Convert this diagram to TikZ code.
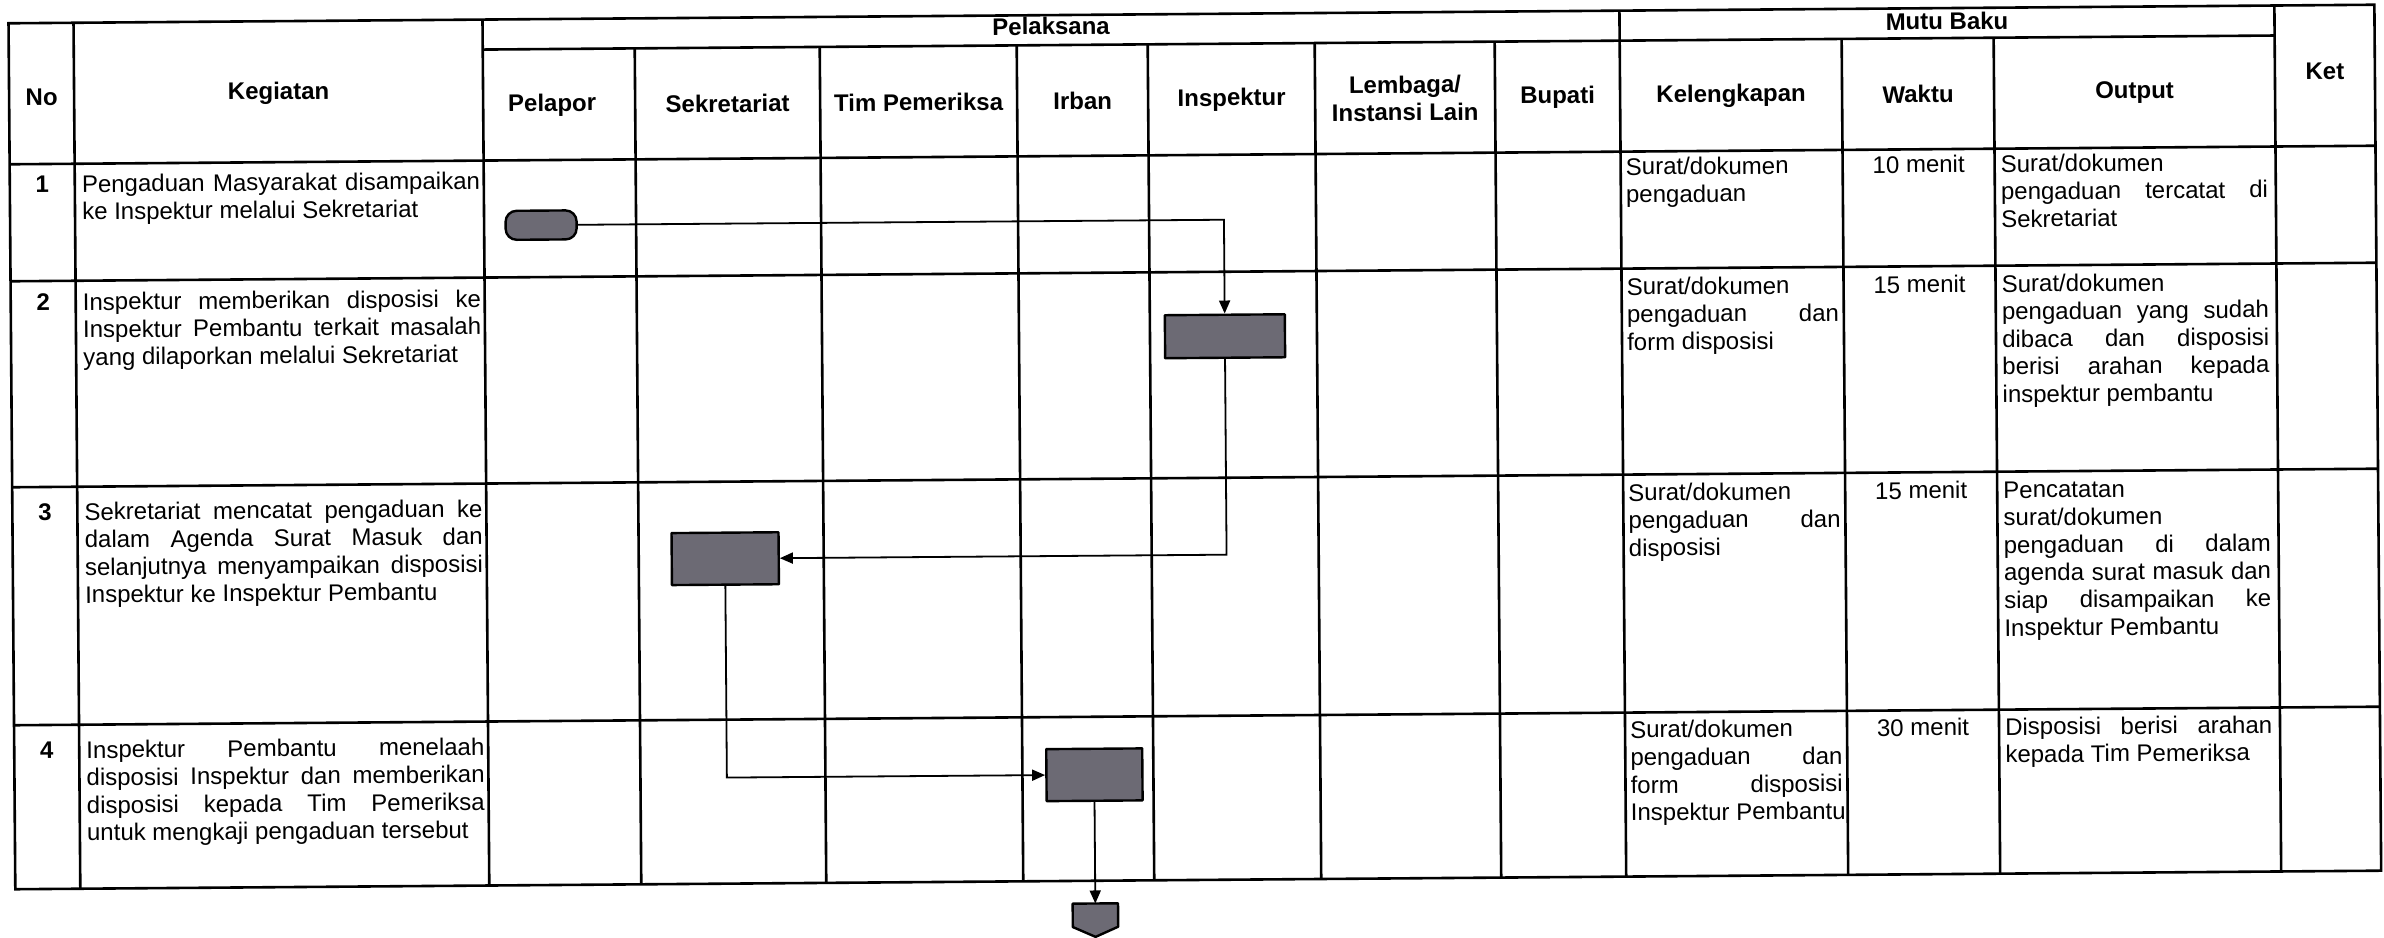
\documentclass[tikz,border=0pt]{standalone}
\usepackage{fontspec}
\setmainfont{Liberation Sans}
\usetikzlibrary{arrows.meta,calc}
\definecolor{boxgray}{RGB}{108,106,116}
\newcommand{\jl}[2]{\makebox[#1][s]{#2}}
\begin{document}
\begin{tikzpicture}[x=1pt,y=-1pt,
  grid/.style={line width=2.6pt,black},
  txt/.style={inner sep=0pt,anchor=north west,align=left,font=\fontsize{24}{27.6}\selectfont},
  hdr/.style={inner sep=0pt,align=center,font=\fontsize{24}{27.6}\selectfont\bfseries},
  num/.style={inner sep=0pt,anchor=north,font=\fontsize{24}{27.6}\selectfont\bfseries},
  wkt/.style={inner sep=0pt,anchor=north,font=\fontsize{24}{27.6}\selectfont},
  proc/.style={draw=black,line width=2.4pt,fill=boxgray,inner sep=0pt,line join=round},
  term/.style={proc,rounded corners=11pt},
  flow/.style={line width=1.8pt,-{Triangle[length=13pt,width=11pt]}},
]
\useasboundingbox (0,0) rectangle (2384,937);
\begin{scope}[rotate around={0.45:(1192,468)},transform shape]
% ---------- table grid ----------
\draw[grid] (12,14) rectangle (2378,880);
\draw[grid] (486,44) -- (2278,44);
\foreach \y in {155,272,478,716} \draw[grid] (12,\y) -- (2378,\y);
\foreach \x in {77,486,1623,2278} \draw[grid] (\x,14) -- (\x,880);
\foreach \x in {638,823,1020,1151,1318,1498,1845,1997} \draw[grid] (\x,44) -- (\x,880);

% ---------- headers ----------
\node[hdr] (hNo) at (44.5,88) {No};
\node[hdr] (hKeg) at (281.5,86) {Kegiatan};
\node[hdr] (hPel) at (1054.5,25) {Pelaksana};
\node[hdr] (hMutu) at (1950.5,27) {Mutu Baku};
\node[hdr] (hKet) at (2328,80) {Ket};
\node[hdr] (hPelapor) at (555,100) {Pelapor};
\node[hdr] (hSek) at (730.5,100) {Sekretariat};
\node[hdr] (hTim) at (921.5,100) {Tim Pemeriksa};
\node[hdr] (hIrban) at (1085.5,100) {Irban};
\node[hdr] (hInsp) at (1234.5,100) {Inspektur};
\node[hdr] (hLem) at (1408,100) {Lembaga/\\Instansi Lain};
\node[hdr] (hBup) at (1560.5,100) {Bupati};
\node[hdr] (hKel) at (1734,100) {Kelengkapan};
\node[hdr] (hWak) at (1921,100) {Waktu};
\node[hdr] (hOut) at (2137.5,100) {Output};

% ---------- numbers ----------
\node[num] (n1) at (44.5,164) {\strut 1};
\node[num] (n2) at (44.5,282) {\strut 2};
\node[num] (n3) at (44.5,492) {\strut 3};
\node[num] (n4) at (44.5,730) {\strut 4};

% ---------- kegiatan ----------
\node[txt] (k1) at (84,164) {\strut\jl{398pt}{Pengaduan Masyarakat disampaikan}\\ke Inspektur melalui Sekretariat};
\node[txt] (k2) at (84,282) {\strut\jl{398pt}{Inspektur memberikan disposisi ke}\\\jl{398pt}{Inspektur Pembantu terkait masalah}\\yang dilaporkan melalui Sekretariat};
\node[txt] (k3) at (84,492) {\strut\jl{398pt}{Sekretariat mencatat pengaduan ke}\\\jl{398pt}{dalam Agenda Surat Masuk dan}\\\jl{398pt}{selanjutnya menyampaikan disposisi}\\Inspektur ke Inspektur Pembantu};
\node[txt] (k4) at (84,730) {\strut\jl{398pt}{Inspektur Pembantu menelaah}\\\jl{398pt}{disposisi Inspektur dan memberikan}\\\jl{398pt}{disposisi kepada Tim Pemeriksa}\\untuk mengkaji pengaduan tersebut};

% ---------- kelengkapan ----------
\node[txt] (l1) at (1628,159) {\strut Surat/dokumen\\pengaduan};
\node[txt] (l2) at (1628,279) {\strut Surat/dokumen\\\jl{212pt}{pengaduan dan}\\form disposisi};
\node[txt] (l3) at (1628,485) {\strut Surat/dokumen\\\jl{212pt}{pengaduan dan}\\disposisi};
\node[txt] (l4) at (1628,722) {\strut Surat/dokumen\\\jl{212pt}{pengaduan dan}\\\jl{212pt}{form disposisi}\\Inspektur Pembantu};

% ---------- waktu ----------
\node[wkt] (w1) at (1921,159) {\strut 10 menit};
\node[wkt] (w2) at (1921,279) {\strut 15 menit};
\node[wkt] (w3) at (1921,485) {\strut 15 menit};
\node[wkt] (w4) at (1921,722) {\strut 30 menit};

% ---------- output ----------
\node[txt] (o1) at (2003,159) {\strut Surat/dokumen\\\jl{267pt}{pengaduan tercatat di}\\Sekretariat};
\node[txt] (o2) at (2003,279) {\strut Surat/dokumen\\\jl{267pt}{pengaduan yang sudah}\\\jl{267pt}{dibaca dan disposisi}\\\jl{267pt}{berisi arahan kepada}\\inspektur pembantu};
\node[txt] (o3) at (2003,485) {\strut Pencatatan\\surat/dokumen\\\jl{267pt}{pengaduan di dalam}\\\jl{267pt}{agenda surat masuk dan}\\\jl{267pt}{siap disampaikan ke}\\Inspektur Pembantu};
\node[txt] (o4) at (2003,722) {\strut\jl{267pt}{Disposisi berisi arahan}\\kepada Tim Pemeriksa};

% ---------- flow shapes ----------
\node[term,minimum width=71pt,minimum height=29pt] (start) at (543,220) {};
\node[proc,minimum width=120pt,minimum height=43pt] (b2) at (1226,336.5) {};
\node[proc,minimum width=107pt,minimum height=52pt] (b3) at (724.5,555) {};
\node[proc,minimum width=96pt,minimum height=52pt] (b4) at (1092,774) {};
\node[inner sep=0pt,minimum width=45pt,minimum height=33pt] (off) at (1092,919.5) {};
\draw[proc] (off.north west) -- (off.north east) -- ($(off.south east)!10pt!(off.north east)$) -- (off.south) -- ($(off.south west)!10pt!(off.north west)$) -- cycle;

% ---------- connectors ----------
\draw[flow] (start.east) -- (start.east -| b2.north) -- (b2.north);
\draw[flow] (b2.south) -- (b2.south |- b3.east) -- (b3.east);
\draw[flow] (b3.south) -- (b3.south |- b4.west) -- (b4.west);
\draw[flow] (b4.south) -- (off.north);
\end{scope}
\end{tikzpicture}
\end{document}
